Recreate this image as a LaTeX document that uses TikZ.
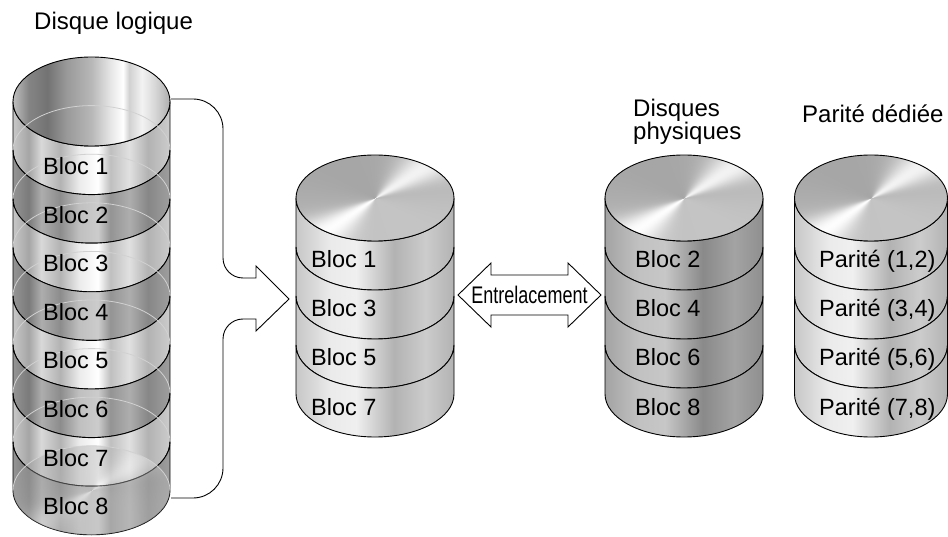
\documentclass[tikz,border=0pt]{standalone}
\usepackage{fontspec}
\setmainfont{Liberation Sans}

% Degrades des flancs de disques
\pgfdeclarehorizontalshading{flancclair}{100bp}{color(0bp)=(black!22); color(25bp)=(black!22); color(36bp)=(black!8); color(44bp)=(black!6); color(56bp)=(black!30); color(66bp)=(black!20); color(75bp)=(black!30); color(100bp)=(black!30)}
\pgfdeclarehorizontalshading{flancsombre}{100bp}{color(0bp)=(black!36); color(25bp)=(black!36); color(36bp)=(black!24); color(44bp)=(black!22); color(56bp)=(black!46); color(66bp)=(black!36); color(75bp)=(black!44); color(100bp)=(black!44)}
% Dessus : reflet conique
\pgfdeclarefunctionalshading{dessus}{\pgfpoint{-50bp}{-50bp}}{\pgfpoint{50bp}{50bp}}{}{
  exch 0.0001 add atan
  dup 50 sub cos dup mul dup mul dup mul dup mul 0.26 mul
  exch 300 sub cos 0.06 mul add
  0.71 add dup dup}
% Disque logique : tube ouvert, flancs rayes
\pgfdeclarehorizontalshading{tubeclair}{100bp}{color(0bp)=(black!22); color(25bp)=(black!22); color(30bp)=(black!35); color(34bp)=(black!15); color(40bp)=(black!30); color(46bp)=(black!8); color(52bp)=(white); color(56bp)=(black!25); color(62bp)=(black!12); color(68bp)=(black!30); color(75bp)=(black!20); color(100bp)=(black!20)}
\pgfdeclarehorizontalshading{tubesombre}{100bp}{color(0bp)=(black!42); color(25bp)=(black!42); color(30bp)=(black!52); color(34bp)=(black!32); color(40bp)=(black!45); color(46bp)=(black!25); color(52bp)=(black!20); color(56bp)=(black!42); color(62bp)=(black!32); color(68bp)=(black!47); color(75bp)=(black!38); color(100bp)=(black!38)}
\pgfdeclarehorizontalshading{tubeinterieur}{100bp}{color(0bp)=(black!25); color(25bp)=(black!25); color(30bp)=(black!48); color(36bp)=(black!55); color(42bp)=(black!40); color(50bp)=(black!28); color(56bp)=(black!10); color(60bp)=(white); color(62bp)=(black!18); color(66bp)=(black!5); color(70bp)=(black!15); color(75bp)=(black!32); color(100bp)=(black!32)}

% tranche de cylindre : cx, rx, ry, centre haut, centre bas, degrade
\newcommand{\tranche}[6]{%
  \shadedraw[shading=#6, contour]
    ({#1-#2},{#4}) -- ({#1-#2},{#5})
    arc[start angle=180, end angle=360, x radius=#2pt, y radius=#3pt]
    -- ({#1+#2},{#4})
    arc[start angle=0, end angle=-180, x radius=#2pt, y radius=#3pt] -- cycle;}

\begin{document}
\begin{tikzpicture}[x=1pt, y=-1pt,
    contour/.style={line width=0.9pt, draw=black},
    arriere/.style={line width=0.8pt, draw=black!18},
    titre/.style={anchor=base west, inner sep=0pt, font=\fontsize{24}{27}\selectfont},
    etiquette/.style={anchor=base west, inner sep=0pt, font=\fontsize{23.5}{26}\selectfont}]
  \useasboundingbox (0,0) rectangle (948,537);

  % Disque logique (huit blocs)
  \node[titre] (logique) at (34,30) {Disque logique};
  \foreach \k [evaluate=\k as \yh using 101.5+48.6*(\k-1),
               evaluate=\k as \yb using 101.5+48.6*\k] in {1,...,8} {
    \ifodd\k \def\omb{tubeclair}\else\def\omb{tubesombre}\fi
    \tranche{91.5}{78.5}{44.5}{\yh}{\yb}{\omb}
  }
  \shadedraw[shading=tubeinterieur, contour] (91.5,101.5) ellipse [x radius=78.5pt, y radius=44.5pt];
  % fond du tube vu par transparence
  \shade[shading=dessus, opacity=0.4] (91.5,490.3) ellipse [x radius=78.5pt, y radius=44.5pt];
  % bords arriere
  \foreach \k [evaluate=\k as \yc using 101.5+48.6*\k] in {1,...,8}
    \draw[arriere] (13,\yc) arc[start angle=180, end angle=0, x radius=78.5pt, y radius=44.5pt];
  \foreach \k [evaluate=\k as \yc using 101.5+48.6*\k+24.5] in {1,...,8}
    \node[etiquette] (logbloc\k) at (43,\yc) {Bloc \k};

  % Accolade vers le disque des blocs impairs
  \coordinate (haut) at (171,99);
  \coordinate (bas) at (171,498);
  \draw[contour] (haut) -- (193,99) arc[start angle=90, end angle=0, radius=30pt]
    -- (223,258) arc[start angle=180, end angle=270, radius=20pt]
    -- (256,278) -- (256,266) -- (289,299) -- (256,331) -- (256,319) -- (243,319)
    arc[start angle=90, end angle=180, radius=20pt]
    -- (223,468) arc[start angle=0, end angle=-90, radius=30pt] -- (bas);

  % Disques physiques : blocs impairs, blocs pairs, parite
  \foreach \k [evaluate=\k as \yh using 198+49*(\k-1),
               evaluate=\k as \yb using 198+49*\k] in {1,...,4} {
    \tranche{375}{79}{43}{\yh}{\yb}{flancclair}
    \tranche{684}{79}{43}{\yh}{\yb}{flancsombre}
    \tranche{871}{76.5}{43}{\yh}{\yb}{flancclair}
  }
  \shadedraw[shading=dessus, contour] (375,198) ellipse [x radius=79pt, y radius=43pt];
  \shadedraw[shading=dessus, contour] (684,198) ellipse [x radius=79pt, y radius=43pt];
  \shadedraw[shading=dessus, contour] (871,198) ellipse [x radius=76.5pt, y radius=43pt];

  \foreach \k/\a/\b [evaluate=\k as \yc using 198+49*\k+21] in {1/1/2, 2/3/4, 3/5/6, 4/7/8} {
    \node[etiquette] (impair\k) at (311,\yc) {Bloc \a};
    \node[etiquette] (pair\k) at (635,\yc) {Bloc \b};
    \node[etiquette] (parite\k) at (819,\yc) {Parité (\a,\b)};
  }

  \node[titre] (disques) at (633,117) {Disques};
  \node[titre] (physiques) at (633,140) {physiques};
  \node[titre] (dediee) at (802,123) {Parité dédiée};

  % Entrelacement (double fleche)
  \draw[contour, fill=white] (458,295) -- (491,263) -- (491,275) -- (568,275) -- (568,263)
    -- (601,295) -- (568,327) -- (568,315) -- (491,315) -- (491,327) -- cycle;
  \node[font=\fontsize{24}{26}\selectfont, inner sep=0pt] (entrelac) at (529.5,295)
    {\scalebox{0.75}[1]{Entrelacement}};
\end{tikzpicture}
\end{document}
